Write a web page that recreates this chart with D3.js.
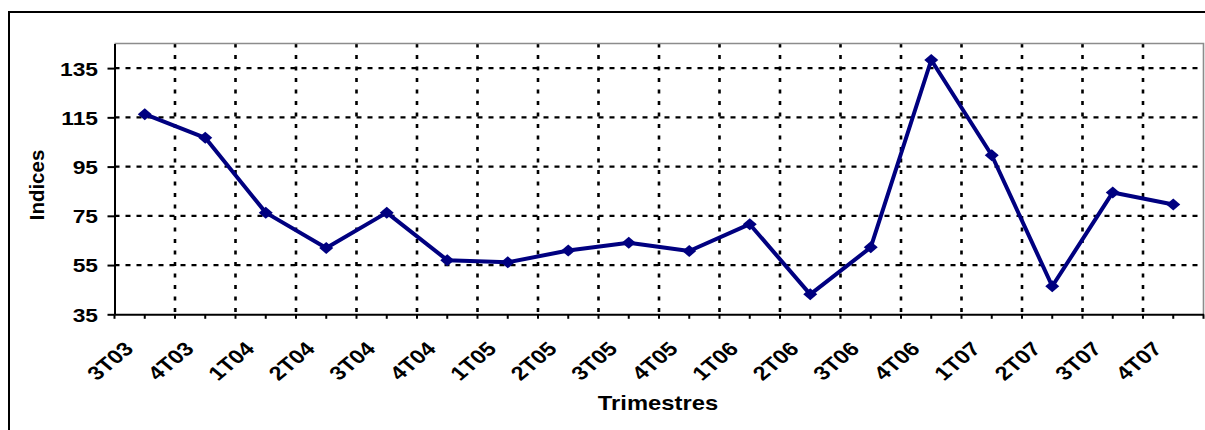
<!doctype html>
<html>
<head>
<meta charset="utf-8"/>
<title>Indices por trimestre</title>
<script src="https://d3js.org/d3.v7.min.js"></script>
<style>
body { margin: 0; background: #fff; }
svg text { font-family: Arial, "Liberation Sans", sans-serif; font-weight: bold; fill: #000; }
</style>
</head>
<body>

<div id="grafico"></div>

<script>
var trimestres = ["3T03", "4T03", "1T04", "2T04", "3T04", "4T04", "1T05", "2T05", "3T05",
                  "4T05", "1T06", "2T06", "3T06", "4T06", "1T07", "2T07", "3T07", "4T07"];
var indices = [116.3, 106.7, 76.3, 61.9, 76.3, 57.0, 56.1, 60.9, 64.1,
               60.7, 71.6, 43.1, 62.2, 138.3, 99.6, 46.4, 84.5, 79.6];
var ticksY = [35, 55, 75, 95, 115, 135];

var esq = 114.5, dir = 1203.5, topo = 43.5, base = 314.3;
var largo = 1.2;   // the labels are drawn wider than plain Arial

var svg = d3.select("#grafico")
    .append("svg")
    .attr("width", 1205)
    .attr("height", 430);

var x = d3.scaleBand().domain(trimestres).range([esq, dir]);
var y = d3.scaleLinear().domain([35, 145]).range([base, topo]);

// outer frame (only left and top edges are inside the picture)
svg.append("path")
    .attr("d", "M9,440 V12 H1215")
    .attr("fill", "none")
    .attr("stroke", "#000")
    .attr("stroke-width", 2);

// horizontal grid
svg.selectAll(".gridH")
    .data(ticksY.slice(1))
    .enter().append("line")
    .attr("x1", esq).attr("x2", dir)
    .attr("y1", function(d) { return y(d); })
    .attr("y2", function(d) { return y(d); })
    .attr("stroke", "#000")
    .attr("stroke-width", 2.2)
    .attr("stroke-dasharray", "5,6");

// vertical grid between categories
var limites = d3.range(trimestres.length + 1).map(function(i) { return x.range()[0] + i * x.step(); });

svg.selectAll(".gridV")
    .data(limites.slice(1, -1))
    .enter().append("line")
    .attr("x1", function(d) { return d; })
    .attr("x2", function(d) { return d; })
    .attr("y1", topo).attr("y2", base)
    .attr("stroke", "#000")
    .attr("stroke-width", 2.6)
    .attr("stroke-dasharray", "4,7.5");

// grey border top and right
svg.append("path")
    .attr("d", "M" + esq + "," + topo + " H" + dir + " V" + base)
    .attr("fill", "none")
    .attr("stroke", "#8c8c8c")
    .attr("stroke-width", 1.6);

// y axis
var eixoY = svg.append("g")
    .attr("transform", "translate(" + esq + ",0)")
    .call(d3.axisLeft(y).tickValues(ticksY).tickSize(7).tickSizeOuter(0));

eixoY.select(".domain").attr("stroke-width", 2);
eixoY.selectAll(".tick line").attr("stroke-width", 2);
eixoY.selectAll(".tick text")
    .attr("x", (98 - esq) / largo)
    .attr("dy", null)
    .attr("y", 6.9)
    .attr("transform", "scale(" + largo + ",1)")
    .style("font-size", "19px");

// x axis, ticks at centres and at limits
var eixoX = svg.append("g")
    .attr("transform", "translate(0," + base + ")")
    .call(d3.axisBottom(x).tickSize(4.5).tickSizeOuter(0));

eixoX.select(".domain").attr("stroke-width", 2);
eixoX.selectAll(".tick line").attr("stroke-width", 2);
eixoX.selectAll(".tick text").remove();

eixoX.selectAll(".limite")
    .data(limites)
    .enter().append("line")
    .attr("x1", function(d) { return d; })
    .attr("x2", function(d) { return d; })
    .attr("y1", 0).attr("y2", 4.5)
    .attr("stroke", "#000")
    .attr("stroke-width", 2);

// category labels
svg.selectAll(".rotulo")
    .data(trimestres)
    .enter().append("text")
    .attr("text-anchor", "end")
    .attr("transform", function(d) {
        var cx = x(d) + x.bandwidth() / 2;
        return "translate(" + (cx - 10) + ",350) scale(1.2,1) rotate(-45)";
    })
    .style("font-size", "19.5px")
    .text(function(d) { return d; });

// axis titles
svg.append("text")
    .attr("text-anchor", "middle")
    .attr("transform", "translate(658,410) scale(1.22,1)")
    .style("font-size", "19.5px")
    .text("Trimestres");

svg.append("text")
    .attr("text-anchor", "middle")
    .attr("transform", "translate(44,185) rotate(-90)")
    .style("font-size", "20.5px")
    .text("Indices");

// series
var linha = d3.line()
    .x(function(d, i) { return x(trimestres[i]) + x.bandwidth() / 2; })
    .y(function(d) { return y(d); });

svg.append("path")
    .datum(indices)
    .attr("d", linha)
    .attr("fill", "none")
    .attr("stroke", "#000080")
    .attr("stroke-width", 4)
    .attr("stroke-linejoin", "round");

svg.selectAll(".marca")
    .data(indices)
    .enter().append("path")
    .attr("d", "M0,-6 L7,0 L0,6 L-7,0 Z")
    .attr("transform", function(d, i) {
        return "translate(" + (x(trimestres[i]) + x.bandwidth() / 2) + "," + y(d) + ")";
    })
    .attr("fill", "#000080");
</script>
</body>
</html>
